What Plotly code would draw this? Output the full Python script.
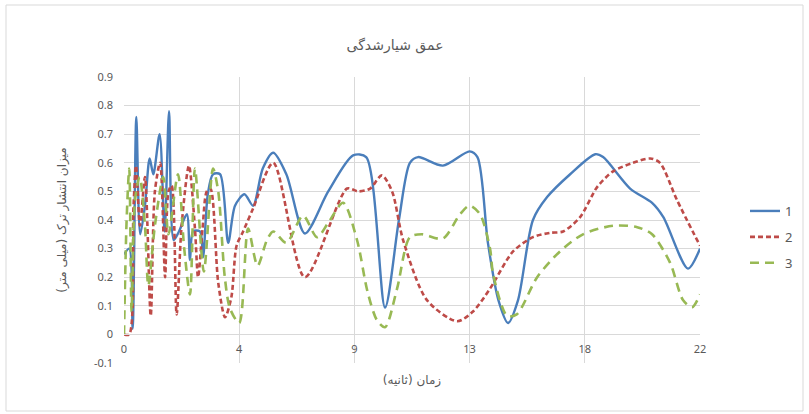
import plotly.graph_objects as go

# ---- data ----
t1 = [0, 0.2, 0.33, 0.47, 0.62, 0.8, 0.98, 1.12, 1.36, 1.55, 1.72, 1.9, 2.1, 2.4, 2.52, 2.64,
      2.9, 3.02, 3.2, 3.4, 3.67, 3.98, 4.24, 4.6, 4.93, 5.3, 5.7, 6.2, 6.91, 7.8, 8.75, 9.25,
      9.97, 10.5, 10.92, 11.23, 12.18, 13.2, 13.5, 13.9, 14.3, 14.67, 15.05, 15.62, 16.16,
      17.04, 18.0, 18.3, 19.33, 20.17, 20.6, 21.54, 22]
v1 = [0.28, 0.3, 0.02, 0.76, 0.35, 0.45, 0.615, 0.56, 0.70, 0.36, 0.78, 0.33, 0.36, 0.42, 0.26, 0.36,
      0.36, 0.27, 0.49, 0.56, 0.56, 0.32, 0.45, 0.49, 0.45, 0.58, 0.635, 0.56, 0.353, 0.5, 0.626, 0.62,
      0.094, 0.4, 0.6, 0.62, 0.59, 0.64, 0.62, 0.32, 0.12, 0.04, 0.12, 0.4, 0.48,
      0.56, 0.63, 0.62, 0.51, 0.46, 0.41, 0.23, 0.30]

t2 = [0, 0.2, 0.36, 0.46, 0.61, 0.8, 1.02, 1.18, 1.38, 1.57, 1.7, 1.82, 2.01, 2.2, 2.48, 2.71,
      2.83, 3.0, 3.16, 3.3, 3.6, 3.86, 4.1, 4.3, 4.55, 4.93, 5.7, 6.91, 8.52, 8.94, 9.4, 9.85,
      10.24, 10.66, 11.57, 12.72, 13.33, 13.98, 14.86, 15.62, 16.27, 16.77, 17.42, 18.07,
      18.68, 19.44, 20.1, 20.47, 21.12, 22]
v2 = [0, 0, 0.44, 0.59, 0.38, 0.55, 0.065, 0.5, 0.6, 0.2, 0.5, 0.52, 0.07, 0.38, 0.59, 0.37,
      0.2, 0.37, 0.5, 0.51, 0.18, 0.06, 0.13, 0.31, 0.36, 0.44, 0.60, 0.2, 0.51, 0.5, 0.51, 0.556,
      0.5, 0.33, 0.12, 0.046, 0.08, 0.16, 0.29, 0.34, 0.355, 0.36, 0.41, 0.515,
      0.57, 0.6, 0.615, 0.6, 0.47, 0.31]

t3 = [0, 0.1, 0.2, 0.29, 0.42, 0.6, 0.8, 0.93, 1.18, 1.5, 1.7, 2.06, 2.3, 2.52, 2.71, 3.05,
      3.4, 3.6, 3.85, 4.05, 4.4, 4.74, 5.1, 5.46, 5.7, 6.2, 6.84, 7.37, 7.8, 8.37, 8.9, 9.3,
      9.66, 9.97, 10.43, 10.92, 11.38, 12.18, 12.83, 13.2, 13.6, 13.98, 14.1, 14.63, 15.0,
      15.78, 16.65, 17.53, 18.68, 19.6, 20.17, 20.86, 21.35, 21.7, 22]
v3 = [0, 0.4, 0.58, 0.08, 0.47, 0.55, 0.38, 0.17, 0.38, 0.55, 0.35, 0.56, 0.3, 0.14, 0.58, 0.22,
      0.58, 0.5, 0.2, 0.09, 0.04, 0.37, 0.24, 0.33, 0.36, 0.32, 0.415, 0.34, 0.39, 0.46, 0.33, 0.15,
      0.05, 0.025, 0.16, 0.34, 0.35, 0.335, 0.42, 0.45, 0.42, 0.30, 0.21, 0.065, 0.07,
      0.2, 0.29, 0.35, 0.38, 0.375, 0.35, 0.25, 0.12, 0.095, 0.14]

names = ["1", "2", "3"]
x_tickvals = [0, 4.4, 8.8, 13.2, 17.6, 22]
x_ticktext = ["0", "4", "9", "13", "18", "22"]
y_tickvals = [-0.1, 0, 0.1, 0.2, 0.3, 0.4, 0.5, 0.6, 0.7, 0.8, 0.9]
y_ticktext = ["-0.1", "0", "0.1", "0.2", "0.3", "0.4", "0.5", "0.6", "0.7", "0.8", "0.9"]

title_text = "عمق شیارشدگی"
x_title = "زمان (ثانیه)"
y_title = "میزان انتشار ترک (میلی متر)"

colors = ["#4a7ebb", "#be4b48", "#98b954"]
dashes = ["solid", "5px,3px", "9px,6px"]
widths = [2.4, 2.6, 2.6]

fig = go.Figure()
for t, v, n, c, d, w in zip([t1, t2, t3], [v1, v2, v3], names, colors, dashes, widths):
    fig.add_trace(go.Scatter(x=t, y=v, name=n, mode="lines", legendgroup=n,
                             line=dict(color=c, dash=d, width=w, shape="spline", smoothing=0.8)))

W, H = 809, 414
L, R, T, B = 124, 700, 77, 363
pw, ph = R - L, B - T

fig.update_layout(
    width=W, height=H,
    margin=dict(l=L, r=W - R, t=T, b=H - B, autoexpand=False),
    paper_bgcolor="white", plot_bgcolor="white",
    font=dict(family="Noto Sans, DejaVu Sans, sans-serif", color="#595959", size=11),
    title=dict(text=title_text, x=395 / W, xanchor="center", y=1 - 45 / H, yanchor="middle",
               yref="container", font=dict(size=14, color="#595959", family="DejaVu Sans")),
    xaxis=dict(range=[0, 22], tickvals=x_tickvals, ticktext=x_ticktext, showgrid=True,
               gridcolor="#d9d9d9", gridwidth=1, zeroline=False, anchor="free", position=0.1,
               showline=True, linecolor="#d9d9d9", ticks="", ticklabelstandoff=4,
               tickfont=dict(size=11, color="#595959"), automargin=False,
               title=dict(text=x_title, standoff=21, font=dict(size=12, color="#595959", family="DejaVu Sans"))),
    yaxis=dict(range=[-0.1, 0.9], tickvals=y_tickvals, ticktext=y_ticktext, showgrid=True,
               gridcolor="#d9d9d9", gridwidth=1, zeroline=False, showline=False, ticks="",
               ticklabelstandoff=10, tickfont=dict(size=11, color="#595959"), automargin=False,
               title=dict(text=y_title, standoff=24, font=dict(size=12, color="#595959", family="DejaVu Sans"))),
    legend=dict(x=(745 - L) / pw, xanchor="left", y=(B - 237) / ph, yanchor="middle",
                font=dict(size=13, color="#595959"), tracegroupgap=6, bgcolor="rgba(0,0,0,0)"),
    showlegend=True,
)

fig.add_shape(type="rect", xref="paper", yref="paper",
              x0=(6 - L) / pw, x1=(803 - L) / pw, y0=(B - 411) / ph, y1=(B - 5) / ph,
              line=dict(color="#d9d9d9", width=1), layer="below")

fig.write_html("out.html")
